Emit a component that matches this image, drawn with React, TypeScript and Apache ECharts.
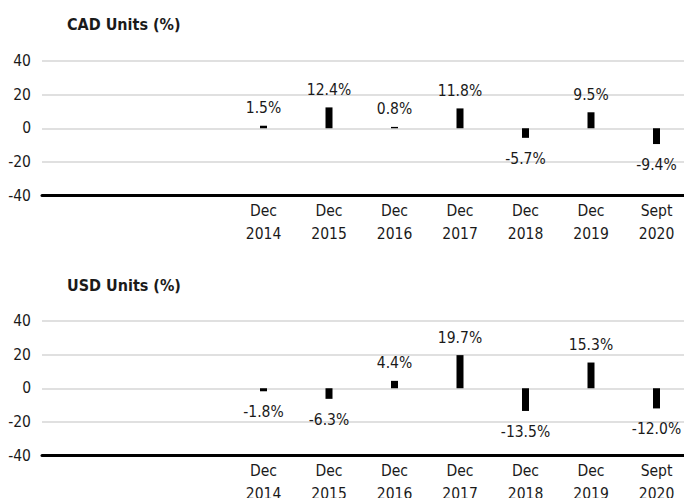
import React, { useEffect, useRef } from "react";
import * as echarts from "echarts";

const categories = ["Dec\n2014", "Dec\n2015", "Dec\n2016", "Dec\n2017", "Dec\n2018", "Dec\n2019", "Sept\n2020"];
const cadValues = [1.5, 12.4, 0.8, 11.8, -5.7, 9.5, -9.4];
const usdValues = [-1.8, -6.3, 4.4, 19.7, -13.5, 15.3, -12.0];
const panelTitles = ["CAD Units (%)", "USD Units (%)"];
const yMin = -40;
const yMax = 40;
const yStep = 20;

const FONT = "'DejaVu Sans Condensed', 'Liberation Sans Narrow', sans-serif";
const FS = 15.5;

export default function App() {
  const ref = useRef<HTMLDivElement>(null);
  useEffect(() => {
    if (!ref.current) return;
    const chart = echarts.init(ref.current, undefined, { renderer: "svg" });
    const panelTops = [61, 321];
    const titleTops = [11, 272];
    const seriesData = [cadValues, usdValues];

    const grids: any[] = [];
    const xAxes: any[] = [];
    const yAxes: any[] = [];
    const series: any[] = [];
    panelTops.forEach((top, p) => {
      grids.push({ left: 42, width: 642, top, height: 134.5, containLabel: false, outerBoundsMode: "none" });
      grids.push({ left: 230.75, width: 458.5, top, height: 134.5, containLabel: false, outerBoundsMode: "none" });
      const ga = p * 2;
      const gb = p * 2 + 1;
      xAxes.push({
        type: "category",
        gridIndex: ga,
        data: [""],
        axisLine: { show: true, onZero: false, lineStyle: { color: "#000", width: 3 } },
        axisTick: { show: false },
        axisLabel: { show: false },
        splitLine: { show: false },
      });
      xAxes.push({
        type: "category",
        gridIndex: gb,
        data: categories,
        axisLine: { show: false, onZero: false },
        axisTick: { show: false },
        axisLabel: {
          show: true,
          interval: 0,
          margin: 4,
          color: "#1a1a1a",
          fontFamily: FONT,
          fontSize: FS,
          lineHeight: 23,
        },
        splitLine: { show: false },
      });
      yAxes.push({
        type: "value",
        gridIndex: ga,
        min: yMin,
        max: yMax,
        interval: yStep,
        axisLine: { show: false },
        axisTick: { show: false },
        axisLabel: { margin: 11, color: "#1a1a1a", fontFamily: FONT, fontSize: FS },
        splitLine: { show: true, lineStyle: { color: "#d6d6d6", width: 1.5 } },
      });
      yAxes.push({
        type: "value",
        gridIndex: gb,
        min: yMin,
        max: yMax,
        interval: yStep,
        axisLine: { show: false },
        axisTick: { show: false },
        axisLabel: { show: false },
        splitLine: { show: false },
      });
      series.push({
        type: "bar",
        xAxisIndex: gb,
        yAxisIndex: gb,
        barWidth: 7,
        itemStyle: { color: "#000" },
        data: seriesData[p].map((v) => ({
          value: v,
          label: {
            show: true,
            position: v >= 0 ? "top" : "bottom",
            distance: v >= 0 ? 9.5 : 13,
            formatter: (prm: any) => prm.value.toFixed(1) + "%",
            color: "#1a1a1a",
            fontFamily: FONT,
            fontSize: FS,
          },
        })),
      });
    });

    chart.setOption({
      animation: false,
      backgroundColor: "#fff",
      title: panelTitles.map((t, i) => ({
        text: t,
        left: 62,
        top: titleTops[i],
        textStyle: { fontFamily: FONT, fontSize: 16, fontWeight: "bold", color: "#1a1a1a" },
      })),
      grid: grids,
      xAxis: xAxes,
      yAxis: yAxes,
      series,
    });
    return () => chart.dispose();
  }, []);
  return (
    <div
      ref={ref}
      style={{ position: "absolute", left: 0, top: 0, width: 684, height: 498 }}
    />
  );
}
